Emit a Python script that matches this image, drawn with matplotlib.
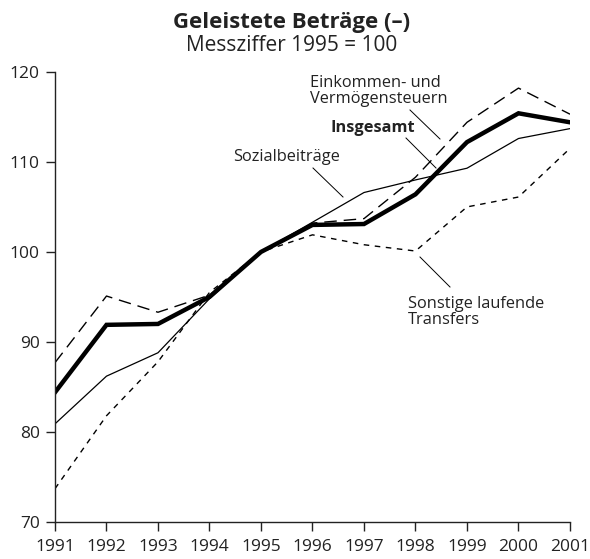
import matplotlib
matplotlib.use("Agg")
import matplotlib.pyplot as plt

plt.rcParams["font.family"] = ["Open Sans", "DejaVu Sans"]

years = [1991, 1992, 1993, 1994, 1995, 1996, 1997, 1998, 1999, 2000, 2001]
insgesamt = [84.4, 91.9, 92.0, 95.0, 100.0, 103.0, 103.1, 106.4, 112.2, 115.4, 114.4]
einkommen = [87.7, 95.1, 93.3, 95.2, 100.0, 103.2, 103.7, 108.3, 114.4, 118.2, 115.3]
sozial = [80.9, 86.2, 88.8, 94.8, 100.0, 103.3, 106.6, 108.0, 109.3, 112.6, 113.7]
sonstige = [73.7, 81.8, 87.8, 95.5, 100.0, 101.9, 100.8, 100.1, 105.0, 106.1, 111.5]

fig = plt.figure(figsize=(5.9, 5.59), dpi=100)
ax = fig.add_axes([0.0932, 0.0662, 0.8729, 0.8052])

ax.plot(years, sonstige, color="black", lw=1.0, dashes=(4, 4))
ax.plot(years, sozial, color="black", lw=0.9)
ax.plot(years, einkommen, color="black", lw=1.0, dashes=(9, 5))
ax.plot(years, insgesamt, color="black", lw=3.2, solid_joinstyle="miter")

ax.set_xlim(1991, 2001)
ax.set_ylim(70, 120)
ax.set_xticks(years)
ax.set_yticks([70, 80, 90, 100, 110, 120])
ax.tick_params(direction="out", length=6.5, width=1, labelsize=12.5,
               colors="#222222", labelcolor="#222222")
ax.tick_params(axis="x", pad=6)
ax.tick_params(axis="y", pad=4.5)
for s in ["top", "right"]:
    ax.spines[s].set_visible(False)
for s in ["left", "bottom"]:
    ax.spines[s].set_linewidth(1)
    ax.spines[s].set_color("#222222")

fig.text(0.495, 0.960, "Geleistete Beträge (–)", ha="center", va="center",
         fontsize=16, fontweight="bold", color="#222222")
fig.text(0.495, 0.918, "Messziffer 1995 = 100", ha="center", va="center",
         fontsize=15, color="#222222")

# Beschriftungen mit Hinweislinien (Pixelkoordinaten der Vorlage)
def px(x, y):
    return (x / 590, 1 - y / 559)

def label(text, xy, line_from, line_to, bold=False, ha="left"):
    fig.text(*px(*xy), text, ha=ha, va="center", fontsize=11.8,
             fontweight="bold" if bold else "normal", linespacing=1.0,
             color="#222222")
    fig.add_artist(plt.Line2D([line_from[0] / 590, line_to[0] / 590],
                              [1 - line_from[1] / 559, 1 - line_to[1] / 559],
                              color="black", lw=0.7))

label("Einkommen- und\nVermögensteuern", (310, 91), (410, 110), (440, 139))
label("Insgesamt", (330, 128), (406, 138), (436, 168), bold=True)
label("Sozialbeiträge", (233, 157), (313, 168), (343, 197))
label("Sonstige laufende\nTransfers", (408, 312), (420, 257), (450, 287))

fig.savefig("out.png", dpi=100)
